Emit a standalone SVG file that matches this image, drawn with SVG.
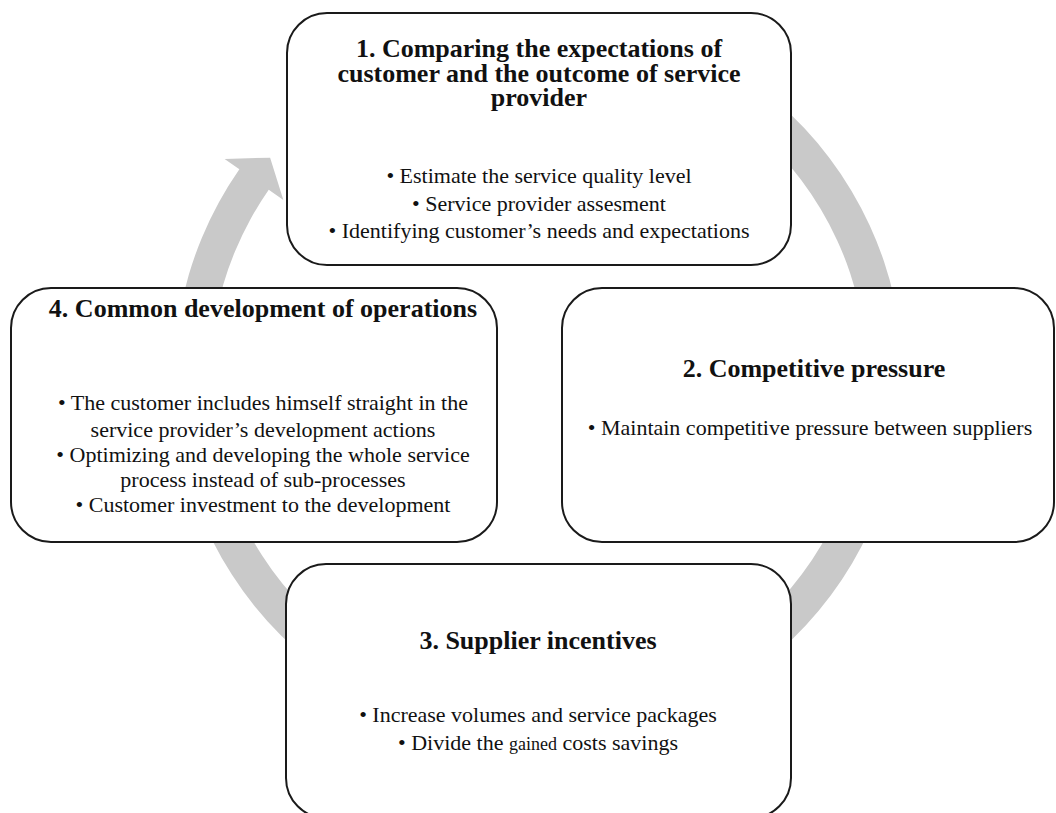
<svg xmlns="http://www.w3.org/2000/svg" width="1056" height="813" viewBox="0 0 1056 813">
<style>
.box{fill:#ffffff;stroke:#1a1a1a;stroke-width:2}
.ring{fill:#c9c9c9;stroke:none}
text{font-family:"Liberation Serif","Times New Roman",serif;fill:#111111;text-anchor:middle}
.t{font-size:26px;font-weight:bold}
.b{font-size:22px}
.s{font-size:18px}
</style>
<rect width="1056" height="813" fill="#ffffff"/>
<g id="connectors">
<path class="ring" d="M601.80,18.64 A364.5,364.5 0 1 1 239.37,169.31 L224.6,159.0 L270.12,157.63 L283.36,199.94 L268.75,189.77 A328.7,328.7 0 1 0 595.58,53.89 Z"/>
</g>
<g id="node1">
<rect class="box" x="287" y="13" width="504" height="252" rx="40" ry="40"/>
<text class="t" x="539" y="57">1. Comparing the expectations of</text>
<text class="t" x="539" y="82">customer and the outcome of service</text>
<text class="t" x="539" y="106">provider</text>
<text class="b" x="539" y="183">• Estimate the service quality level</text>
<text class="b" x="539" y="211">• Service provider assesment</text>
<text class="b" x="539" y="238">• Identifying customer’s needs and expectations</text>
</g>
<g id="node2">
<rect class="box" x="562" y="288" width="492" height="254" rx="40" ry="40"/>
<text class="t" x="814" y="377">2. Competitive pressure</text>
<text class="b" x="810" y="435">• Maintain competitive pressure between suppliers</text>
</g>
<g id="node3">
<rect class="box" x="286" y="564" width="505" height="254" rx="40" ry="40"/>
<text class="t" x="538" y="649">3. Supplier incentives</text>
<text class="b" x="538" y="722">• Increase volumes and service packages</text>
<text class="b" x="538" y="750">• Divide the <tspan class="s">gained</tspan> costs savings</text>
</g>
<g id="node4">
<rect class="box" x="11" y="288" width="486" height="254" rx="40" ry="40"/>
<text class="t" x="263" y="317">4. Common development of operations</text>
<text class="b" x="263" y="410">• The customer includes himself straight in the</text>
<text class="b" x="263" y="437">service provider’s development actions</text>
<text class="b" x="263" y="462">• Optimizing and developing the whole service</text>
<text class="b" x="263" y="487">process instead of sub-processes</text>
<text class="b" x="263" y="512">• Customer investment to the development</text>
</g>
</svg>
